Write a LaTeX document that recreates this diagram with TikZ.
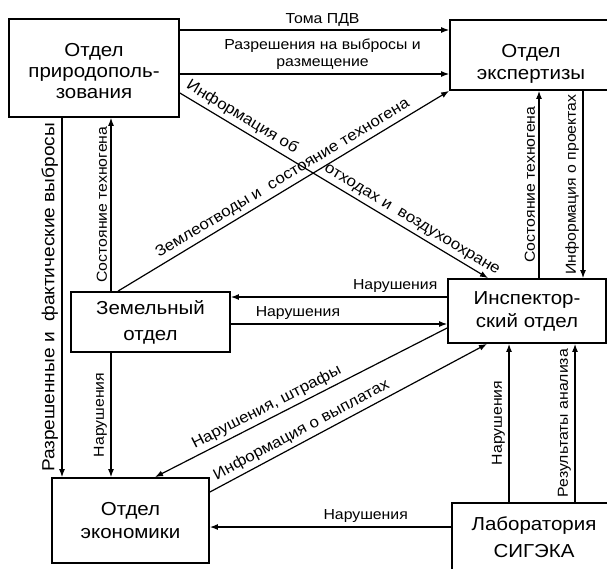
\documentclass[tikz,border=0pt]{standalone}
\usepackage{fontspec}
\setmainfont{Liberation Sans}[FakeStretch=1.09]
\usetikzlibrary{arrows.meta}
\begin{document}
\begin{tikzpicture}[x=1pt,y=-1pt,
  box/.style={draw, line width=1.8pt, align=center, inner sep=0pt, font=\fontsize{18.8}{22}\selectfont},
  conn/.style={line width=1.2pt, -{Latex[length=8pt,width=6pt]}},
  lbl/.style={font=\fontsize{14.5}{17}\selectfont, inner sep=3.5pt},
  slbl/.style={lbl, font=\fontsize{15.5}{18}\selectfont, sloped, above},
  vlbl/.style={lbl, rotate=90, anchor=south},
]
\useasboundingbox (0,0) rectangle (607,568);

% boxes
\node[box, minimum width=170pt, minimum height=98pt, font=\fontsize{18.8}{21}\selectfont, text height=61pt] (nat) at (94,68) {Отдел\\природополь-\\зования};
\node[box, minimum width=162pt, minimum height=70pt, text height=52pt] (exp) at (531,55) {Отдел\\экспертизы};
\node[box, minimum width=159pt, minimum height=60pt, font=\fontsize{18.8}{26}\selectfont] (zem) at (150.5,322) {Земельный\\отдел};
\node[box, minimum width=158pt, minimum height=64pt, font=\fontsize{18.8}{23}\selectfont] (insp) at (527,311) {Инспектор-\\ский отдел};
\node[box, minimum width=157pt, minimum height=85pt, font=\fontsize{18.8}{23}\selectfont] (econ) at (130.5,520.5) {Отдел\\экономики};
\node[box, minimum width=164pt, minimum height=68pt, font=\fontsize{18.8}{27}\selectfont] (lab) at (534,537) {Лаборатория\\СИГЭКА};

% horizontal connectors top
\draw[conn] (nat.east |- 0,30) -- node[lbl, above, pos=0.53] (t1) {Тома ПДВ} (exp.west |- 0,30);
\draw[conn] (nat.east |- 0,74) -- node[lbl, above, pos=0.53, align=center] (t2) {Разрешения на выбросы и\\размещение} (exp.west |- 0,74);

% diagonals upper
\draw[conn] (nat.east |- 0,93) -- node[slbl, pos=0.183] (t3a) {Информация об} node[slbl, pos=0.735] (t3b) {отходах и\ \ воздухоохране} (insp.north -| 488,0);
\draw[conn] (zem.north -| 118,0) -- node[slbl, pos=0.515] (t4) {Землеотводы и\ \ состояние техногена} (exp.south west);

% middle horizontals
\draw[conn] (insp.west |- 0,297) -- node[lbl, above, pos=0.24] (t5) {Нарушения} (zem.east |- 0,297);
\draw[conn] (zem.east |- 0,324) -- node[lbl, above, pos=0.31] (t6) {Нарушения} (insp.west |- 0,324);

% lower diagonals
\draw[conn] (insp.west |- 0,328) -- node[slbl, pos=0.6] (t7) {Нарушения, штрафы} (econ.north -| 155,0);
\draw[conn] (econ.east |- 0,492) -- node[slbl, pos=0.35] (t8) {Информация о выплатах} (insp.south -| 487,0);

% bottom horizontal
\draw[conn] (lab.west |- 0,527) -- node[lbl, above, pos=0.354] (t9) {Нарушения} (econ.east |- 0,527);

% verticals right
\draw[conn] (lab.north -| 509,0) -- node[vlbl, pos=0.5] (t10) {Нарушения} (insp.south -| 509,0);
\draw[conn] (lab.north -| 575,0) -- node[vlbl, pos=0.5] (t11) {Результаты анализа} (insp.south -| 575,0);
\draw[conn] (insp.north -| 539,0) -- node[vlbl, pos=0.5] (t12) {Состояние техногена} (exp.south -| 539,0);
\draw[conn] (exp.south -| 583,0) -- node[vlbl, pos=0.5] (t13) {Информация о проектах} (insp.north -| 583,0);

% verticals left
\draw[conn] (nat.south -| 62,0) -- node[vlbl, pos=0.5, font=\fontsize{17.5}{20}\selectfont] (t14) {Разрешенные и\ \ фактические выбросы} (econ.north -| 62,0);
\draw[conn] (zem.north -| 111,0) -- node[vlbl, pos=0.5] (t15) {Состояние техногена} (nat.south -| 111,0);
\draw[conn] (zem.south -| 111,0) -- node[vlbl, pos=0.5] (t16) {Нарушения} (econ.north -| 111,0);
\end{tikzpicture}
\end{document}
